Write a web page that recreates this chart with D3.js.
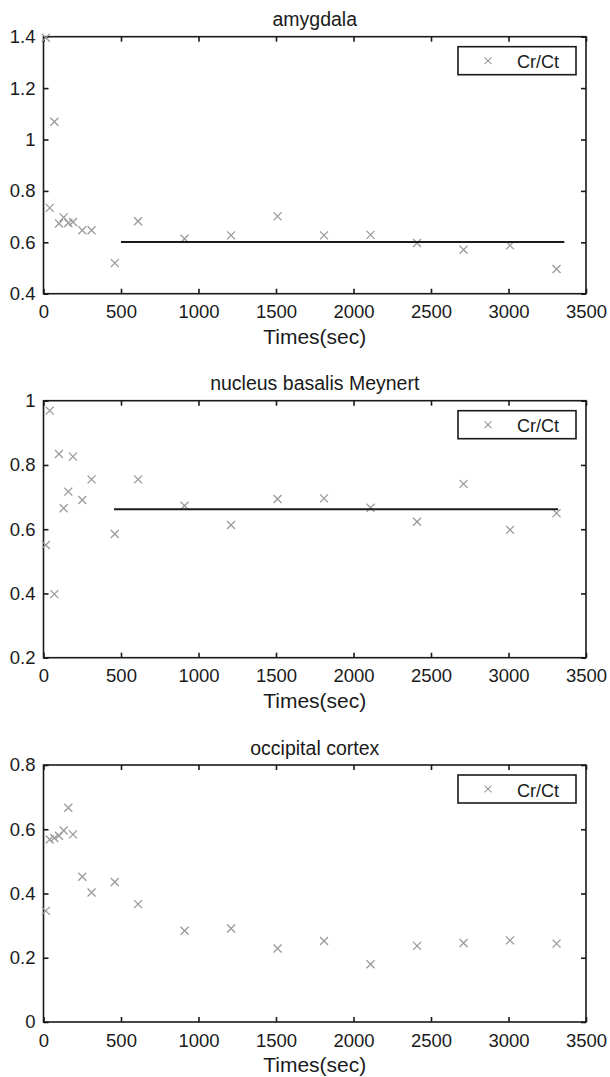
<!DOCTYPE html>
<html lang="en">
<head>
  <meta charset="UTF-8" />
  <title>Cr/Ct over time</title>
  <style>
    html, body {
      margin: 0; padding: 0;
      background: #fff;
    }
    svg {
      display: block;
      font-family: "Liberation Sans", Arial, sans-serif;
    }
    .box { fill: none; stroke: #1a1a1a; stroke-width: 1.6px; }
    .tick line { stroke: #1a1a1a; stroke-width: 1.6px; }
    .tick text { fill: #1a1a1a; font-size: 18.5px; }
    .mark { fill: none; stroke: #9a9a9a; stroke-width: 1.3px; }
    .fit { stroke: #1a1a1a; stroke-width: 2px; }
  </style>
</head>
<body>
  <svg width="610" height="1077"></svg>

  <script src="https://d3js.org/d3.v7.min.js"></script>
  <script>
    // sample times (sec), shared by all three regions
    const times = [15, 40, 70, 100, 130, 160, 190, 250, 310, 460, 610,
                   910, 1210, 1510, 1810, 2110, 2410, 2710, 3010, 3310];

    const amygdala = [1.396, 0.734, 1.069, 0.673, 0.697, 0.675, 0.679, 0.647, 0.647, 0.519, 0.682,
                      0.614, 0.627, 0.701, 0.627, 0.629, 0.597, 0.571, 0.588, 0.496];
    const nbm = [0.551, 0.969, 0.398, 0.834, 0.665, 0.717, 0.826, 0.691, 0.755, 0.585, 0.755,
                 0.673, 0.613, 0.694, 0.696, 0.667, 0.623, 0.741, 0.598, 0.65];
    const occipital = [0.346, 0.568, 0.573, 0.58, 0.596, 0.667, 0.584, 0.452, 0.403, 0.436, 0.367,
                       0.284, 0.291, 0.229, 0.252, 0.18, 0.237, 0.246, 0.254, 0.244];

    // plateau fits (start, end time) and level
    const amygFitX = [500, 3360], amygFitY = 0.601;
    const nbmFitX = [455, 3320], nbmFitY = 0.662;

    const xTicks = [0, 500, 1000, 1500, 2000, 2500, 3000, 3500];
    const amygTicks = [0.4, 0.6, 0.8, 1, 1.2, 1.4];
    const nbmTicks = [0.2, 0.4, 0.6, 0.8, 1];
    const occTicks = [0, 0.2, 0.4, 0.6, 0.8];

    const panels = [
      { title: "amygdala", values: amygdala, yDomain: [0.4, 1.4], yTicks: amygTicks,
        fitX: amygFitX, fitY: amygFitY, top: 36.7 },
      { title: "nucleus basalis Meynert", values: nbm, yDomain: [0.2, 1], yTicks: nbmTicks,
        fitX: nbmFitX, fitY: nbmFitY, top: 400.7 },
      { title: "occipital cortex", values: occipital, yDomain: [0, 0.8], yTicks: occTicks,
        fitX: null, fitY: null, top: 765 }
    ];

    const left = 43.5, right = 586, plotH = 257;
    const svg = d3.select("svg");
    const cross = "M-4,-4L4,4M-4,4L4,-4";
    const plain = d => String(d);

    const x = d3.scaleLinear().domain([0, 3500]).range([left, right]);

    panels.forEach(p => {
      const top = p.top, bottom = top + plotH;
      const y = d3.scaleLinear().domain(p.yDomain).range([bottom, top]);
      const g = svg.append("g");

      // axes with inward ticks on all four sides
      g.append("g")
        .attr("transform", `translate(0,${bottom})`)
        .call(d3.axisBottom(x).tickValues(xTicks).tickSizeInner(-5).tickSizeOuter(0)
          .tickPadding(11.5).tickFormat(plain))
        .call(a => a.select(".domain").remove());
      g.append("g")
        .attr("transform", `translate(0,${top})`)
        .call(d3.axisTop(x).tickValues(xTicks).tickSizeInner(-5).tickSizeOuter(0).tickFormat(""))
        .call(a => a.select(".domain").remove());
      g.append("g")
        .attr("transform", `translate(${left},0)`)
        .call(d3.axisLeft(y).tickValues(p.yTicks).tickSizeInner(-5).tickSizeOuter(0)
          .tickPadding(8).tickFormat(plain))
        .call(a => a.select(".domain").remove());
      g.append("g")
        .attr("transform", `translate(${right},0)`)
        .call(d3.axisRight(y).tickValues(p.yTicks).tickSizeInner(-5).tickSizeOuter(0).tickFormat(""))
        .call(a => a.select(".domain").remove());

      g.selectAll(".tick text").attr("font-family", null).attr("font-size", null);

      g.append("rect").attr("class", "box")
        .attr("x", left).attr("y", top)
        .attr("width", right - left).attr("height", plotH);

      // title and x label
      g.append("text")
        .attr("x", (left + right) / 2).attr("y", top - 10.5)
        .attr("text-anchor", "middle")
        .attr("font-size", 19.5).attr("fill", "#1a1a1a")
        .text(p.title);
      g.append("text")
        .attr("x", (left + right) / 2).attr("y", bottom + 50)
        .attr("text-anchor", "middle")
        .attr("font-size", 21).attr("fill", "#1a1a1a")
        .text("Times(sec)");

      // data markers
      g.selectAll(".mark")
        .data(times.map((t, i) => [t, p.values[i]]))
        .join("path")
        .attr("class", "mark")
        .attr("transform", d => `translate(${x(d[0])},${y(d[1])})`)
        .attr("d", cross);

      // plateau line
      if (p.fitX) {
        g.append("line").attr("class", "fit")
          .attr("x1", x(p.fitX[0])).attr("x2", x(p.fitX[1]))
          .attr("y1", y(p.fitY)).attr("y2", y(p.fitY));
      }

      // legend
      const lg = g.append("g").attr("transform", `translate(${right - 128},${top + 10})`);
      lg.append("rect")
        .attr("width", 118).attr("height", 28)
        .attr("fill", "#fff").attr("stroke", "#1a1a1a").attr("stroke-width", 1.6);
      lg.append("path").attr("class", "mark")
        .attr("transform", "translate(30,14) scale(0.85)")
        .attr("d", cross);
      lg.append("text")
        .attr("x", 59).attr("y", 21.6)
        .attr("font-size", 18).attr("fill", "#1a1a1a")
        .text("Cr/Ct");
    });
  </script>
</body>
</html>
